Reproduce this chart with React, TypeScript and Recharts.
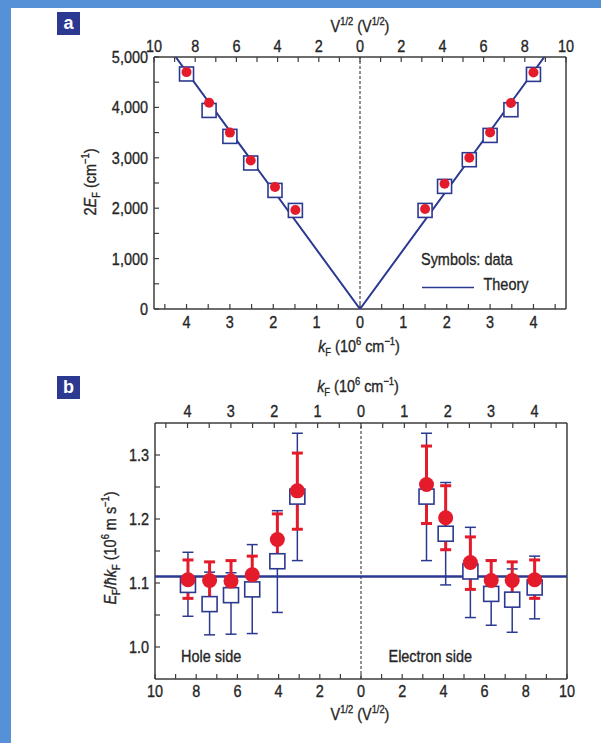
import { ErrorBar, ReferenceLine, Scatter, ScatterChart, XAxis, YAxis } from 'recharts';

const NAVY = '#2b3990';
const RED = '#e31b2a';
const INK = '#262626';
const FRAME = '#3c3c3c';
// Helvetica Condensed look: Arial metrics squeezed horizontally
const FONT = "'Liberation Sans', Arial, sans-serif";
const NARROW = 0.85;
const FS = 17;

// panel a: 2E_F (cm^-1) against k_F (10^6 cm^-1)
const kA = [-4.0, -3.48, -3.0, -2.52, -1.96, -1.49, 1.5, 1.95, 2.52, 3.0, 3.48, 4.0];
const dotA = [4700, 4093, 3500, 2948, 2421, 1964, 1984, 2486, 3002, 3504, 4087, 4694];
const squareA = [4663, 3940, 3425, 2897, 2353, 1956, 1956, 2433, 2962, 3444, 3954, 4655];
const theoryK = [-4.25, 0, 4.25];
const theoryE = [5000, 0, 5000];

// panel b: E_F / hbar k_F (10^6 m/s) against V^1/2
const vB = [-8.4, -7.35, -6.31, -5.28, -4.06, -3.09, 3.18, 4.11, 5.31, 6.32, 7.34, 8.43];
const dotB = [1.105, 1.104, 1.103, 1.113, 1.168, 1.244, 1.254, 1.202, 1.132, 1.104, 1.104, 1.105];
const dotLowB = [1.076, 1.075, 1.075, 1.081, 1.127, 1.184, 1.193, 1.152, 1.09, 1.075, 1.074, 1.076];
const dotHighB = [1.136, 1.133, 1.135, 1.142, 1.208, 1.303, 1.314, 1.252, 1.172, 1.135, 1.133, 1.136];
const squareB = [1.097, 1.067, 1.081, 1.09, 1.134, 1.235, 1.235, 1.177, 1.118, 1.083, 1.074, 1.093];
const squareLowB = [1.048, 1.019, 1.02, 1.021, 1.054, 1.135, 1.135, 1.097, 1.046, 1.034, 1.023, 1.044];
const squareHighB = [1.148, 1.117, 1.116, 1.16, 1.213, 1.334, 1.334, 1.257, 1.187, 1.136, 1.122, 1.142];
const theoryVelocity = 1.11;

// axis ticks
const kTicks = [-4.5, -4, -3.5, -3, -2.5, -2, -1.5, -1, -0.5, 0, 0.5, 1, 1.5, 2, 2.5, 3, 3.5, 4, 4.5];
const vTicks = [-10, -9, -8, -7, -6, -5, -4, -3, -2, -1, 0, 1, 2, 3, 4, 5, 6, 7, 8, 9, 10];
const energyTicks = [0, 500, 1000, 1500, 2000, 2500, 3000, 3500, 4000, 4500, 5000];
const velocityTicks = [1.0, 1.05, 1.1, 1.15, 1.2, 1.25, 1.3];

const K_DOMAIN: [number, number] = [-4.75, 4.75];
const V_DOMAIN: [number, number] = [-10, 10];

const onStep = (v: number, step: number) => Math.abs(v / step - Math.round(v / step)) < 1e-6;

const absLabel = (step: number) => (v: number) => (onStep(v, step) ? String(Math.abs(Math.round(v))) : '');
const energyLabel = (v: number) => (onStep(v, 1000) ? v.toLocaleString('en-US') : '');
const velocityLabel = (v: number) => (onStep(v, 0.1) ? v.toFixed(1) : '');

const axisLine = { stroke: FRAME, strokeWidth: 1.5 };
const tickLine = { stroke: FRAME, strokeWidth: 1.2 };

const theoryData = theoryK.map((x, i) => ({ x, y: theoryE[i] }));
const squaresA = kA.map((x, i) => ({ x, y: squareA[i] }));
const dotsA = kA.map((x, i) => ({ x, y: dotA[i] }));

const squaresB = vB.map((x, i) => ({ x, y: squareB[i], err: [squareB[i] - squareLowB[i], squareHighB[i] - squareB[i]] }));
const dotsB = vB.map((x, i) => ({ x, y: dotB[i], err: [dotB[i] - dotLowB[i], dotHighB[i] - dotB[i]] }));
const theoryLineB = V_DOMAIN.map(x => ({ x, y: theoryVelocity }));

const square = (size: number) => (props: any) => (
  <rect x={props.cx - size / 2} y={props.cy - size / 2} width={size} height={size} fill="#fff" stroke={NAVY} strokeWidth={1.6} />
);
const dot = (r: number) => (props: any) => <circle cx={props.cx} cy={props.cy} r={r} fill={RED} />;
const noSymbol = () => <g />;

// squeezed text, anchored at its baseline
function Narrow({ x, y, anchor = 'start', rotate = 0, size = FS, children }: { x: number; y: number; anchor?: string; rotate?: number; size?: number; children: any }) {
  return (
    <g transform={`translate(${x},${y}) rotate(${rotate}) scale(${NARROW},1)`}>
      <text x={0} y={0} textAnchor={anchor} fontSize={size} fill={INK} stroke={INK} strokeWidth={0.35} fontFamily={FONT}>{children}</text>
    </g>
  );
}

const axisTick = (side: 'top' | 'bottom' | 'left', format: (v: number) => string) => (props: any) => {
  const label = format(props.payload.value);
  if (!label) return <g />;
  const baseline = side === 'bottom' ? props.y + 0.71 * FS : side === 'top' ? props.y : props.y + 0.355 * FS;
  return <Narrow x={props.x} y={baseline} anchor={side === 'left' ? 'end' : 'middle'}>{label}</Narrow>;
};

function KTitle({ x, y }: { x: number; y: number }) {
  return (
    <Narrow x={x} y={y} anchor="middle">
      <tspan fontStyle="italic">k</tspan>
      <tspan fontSize={11} dy={4}>F</tspan>
      <tspan dy={-4}>{' (10'}</tspan>
      <tspan fontSize={11} dy={-7}>6</tspan>
      <tspan dy={7}>{' cm'}</tspan>
      <tspan fontSize={11} dy={-7}>−1</tspan>
      <tspan dy={7}>)</tspan>
    </Narrow>
  );
}

function VTitle({ x, y }: { x: number; y: number }) {
  return (
    <Narrow x={x} y={y} anchor="middle">
      <tspan>V</tspan>
      <tspan fontSize={11} dy={-7}>1/2</tspan>
      <tspan dy={7}>{' (V'}</tspan>
      <tspan fontSize={11} dy={-7}>1/2</tspan>
      <tspan dy={7}>)</tspan>
    </Narrow>
  );
}

function PanelTag({ x, y, label }: { x: number; y: number; label: string }) {
  return (
    <g>
      <rect x={x} y={y} width={23} height={23} fill={NAVY} />
      <text x={x + 11.5} y={y + 17} textAnchor="middle" fontSize={18} fontWeight="bold" fill="#fff" fontFamily={FONT}>{label}</text>
    </g>
  );
}

function PanelA() {
  return (
    <ScatterChart width={601} height={360} margin={{ top: 37, right: 34, bottom: 21, left: 84 }}>
      <XAxis xAxisId="k" type="number" dataKey="x" domain={K_DOMAIN} allowDataOverflow ticks={kTicks} interval={0} height={30}
        tick={axisTick('bottom', absLabel(1))} tickSize={-5} tickMargin={12} axisLine={axisLine} tickLine={tickLine} />
      <XAxis xAxisId="v" orientation="top" type="number" dataKey="x" domain={V_DOMAIN} allowDataOverflow ticks={vTicks} interval={0} height={20}
        tick={axisTick('top', absLabel(2))} tickSize={-5} tickMargin={10} axisLine={axisLine} tickLine={tickLine} />
      <YAxis yAxisId="e" type="number" dataKey="y" domain={[0, 5000]} allowDataOverflow ticks={energyTicks} interval={0} width={70}
        tick={axisTick('left', energyLabel)} tickSize={-5} tickMargin={11} axisLine={axisLine} tickLine={tickLine} />
      <YAxis yAxisId="r" orientation="right" type="number" domain={[0, 5000]} allowDataOverflow width={1} tick={false} tickLine={false} axisLine={axisLine} />
      <ReferenceLine xAxisId="k" yAxisId="e" x={0} stroke="#222" strokeWidth={1} strokeDasharray="3 2" />
      <Scatter xAxisId="k" yAxisId="e" data={theoryData} line={{ stroke: NAVY, strokeWidth: 2 }} shape={noSymbol} isAnimationActive={false} />
      <Scatter xAxisId="k" yAxisId="e" data={squaresA} shape={square(14)} isAnimationActive={false} />
      <Scatter xAxisId="k" yAxisId="e" data={dotsA} shape={dot(5)} isAnimationActive={false} />
    </ScatterChart>
  );
}

function PanelB() {
  return (
    <ScatterChart width={601} height={383} margin={{ top: 43, right: 33, bottom: 34, left: 85 }}>
      <XAxis xAxisId="v" type="number" dataKey="x" domain={V_DOMAIN} allowDataOverflow ticks={vTicks} interval={0} height={30}
        tick={axisTick('bottom', absLabel(2))} tickSize={-5} tickMargin={11} axisLine={axisLine} tickLine={tickLine} />
      <XAxis xAxisId="k" orientation="top" type="number" dataKey="x" domain={K_DOMAIN} allowDataOverflow ticks={kTicks} interval={0} height={20}
        tick={axisTick('top', absLabel(1))} tickSize={-5} tickMargin={11} axisLine={axisLine} tickLine={tickLine} />
      <YAxis yAxisId="u" type="number" dataKey="y" domain={[0.95, 1.35]} allowDataOverflow ticks={velocityTicks} interval={0} width={70}
        tick={axisTick('left', velocityLabel)} tickSize={-5} tickMargin={11} axisLine={axisLine} tickLine={tickLine} />
      <YAxis yAxisId="r" orientation="right" type="number" domain={[0.95, 1.35]} allowDataOverflow width={1} tick={false} tickLine={false} axisLine={axisLine} />
      <ReferenceLine xAxisId="v" yAxisId="u" x={0} stroke="#222" strokeWidth={1} strokeDasharray="3 2" />
      <Scatter xAxisId="v" yAxisId="u" data={theoryLineB} line={{ stroke: NAVY, strokeWidth: 2.5 }} shape={noSymbol} isAnimationActive={false} />
      <Scatter xAxisId="v" yAxisId="u" data={squaresB} shape={square(15)} isAnimationActive={false}>
        <ErrorBar dataKey="err" direction="y" width={5.5} stroke={NAVY} strokeWidth={1.5} isAnimationActive={false} />
      </Scatter>
      <Scatter xAxisId="v" yAxisId="u" data={dotsB} shape={dot(7.5)} isAnimationActive={false}>
        <ErrorBar dataKey="err" direction="y" width={5.5} stroke={RED} strokeWidth={3} isAnimationActive={false} />
      </Scatter>
    </ScatterChart>
  );
}

export default function App() {
  return (
    <div style={{ position: 'absolute', left: 0, top: 0, width: 601, height: 743, background: '#5690d6', overflow: 'hidden' }}>
      <div style={{ position: 'absolute', left: 11, top: 8, right: 0, bottom: 0, background: '#fff' }} />
      <div style={{ position: 'absolute', left: 0, top: 0 }}>
        <PanelA />
      </div>
      <div style={{ position: 'absolute', left: 0, top: 360 }}>
        <PanelB />
      </div>
      <svg width={601} height={743} style={{ position: 'absolute', left: 0, top: 0, pointerEvents: 'none' }}>
        <PanelTag x={57} y={12} label="a" />
        <PanelTag x={57} y={376} label="b" />
        <VTitle x={360} y={32} />
        <KTitle x={359} y={352} />
        <Narrow x={96} y={182} anchor="middle" rotate={-90}>
          <tspan>2</tspan>
          <tspan fontStyle="italic">E</tspan>
          <tspan fontSize={11} dy={4}>F</tspan>
          <tspan dy={-4}>{' (cm'}</tspan>
          <tspan fontSize={11} dy={-7}>−1</tspan>
          <tspan dy={7}>)</tspan>
        </Narrow>
        <Narrow x={421} y={265}>Symbols: data</Narrow>
        <line x1={422} y1={287.5} x2={474} y2={287.5} stroke={NAVY} strokeWidth={1.5} />
        <Narrow x={483.5} y={290}>Theory</Narrow>

        <KTitle x={358} y={392} />
        <VTitle x={360} y={720} />
        <Narrow x={116} y={548} anchor="middle" rotate={-90}>
          <tspan fontStyle="italic">E</tspan>
          <tspan fontSize={11} dy={4}>F</tspan>
          <tspan dy={-4}>/</tspan>
          <tspan fontStyle="italic">ħk</tspan>
          <tspan fontSize={11} dy={4}>F</tspan>
          <tspan dy={-4}>{' (10'}</tspan>
          <tspan fontSize={11} dy={-7}>6</tspan>
          <tspan dy={7}>{' m s'}</tspan>
          <tspan fontSize={11} dy={-7}>−1</tspan>
          <tspan dy={7}>)</tspan>
        </Narrow>
        <Narrow x={181} y={662}>Hole side</Narrow>
        <Narrow x={388.5} y={662}>Electron side</Narrow>
      </svg>
    </div>
  );
}
